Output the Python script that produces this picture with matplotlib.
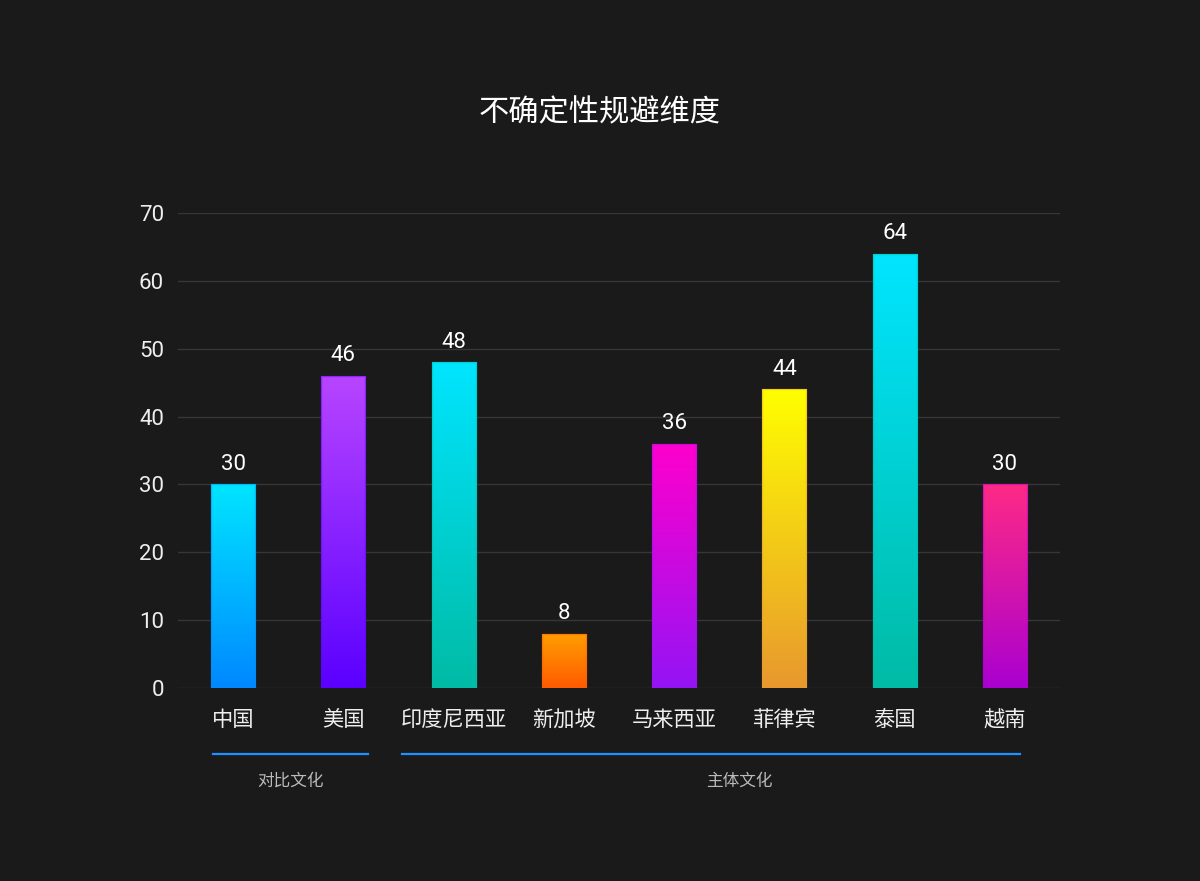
import matplotlib.pyplot as plt
import numpy as np
from matplotlib.colors import LinearSegmentedColormap, to_rgba
import matplotlib.transforms as mtransforms

plt.rcParams['font.family'] = ['Roboto', 'Noto Sans CJK SC', 'DejaVu Sans']

countries = ['中国', '美国', '印度尼西亚', '新加坡', '马来西亚', '菲律宾', '泰国', '越南']
values = [30, 46, 48, 8, 36, 44, 64, 30]
# gradient colours per bar: (top, bottom)
top_colors = ['#00E5FF', '#B845FF', '#00E5FF', '#FF9F00', '#FF00CC', '#FFFF00', '#00E5FF', '#FF2A86']
bottom_colors = ['#0088FF', '#5A00FF', '#00BBA5', '#FF5A00', '#9414F5', '#E8982E', '#00BBA5', '#AA00D0']
groups = ['对比文化', '主体文化']
group_start = [0, 2]
group_end = [1, 7]

bg = '#1A1A1A'
fig = plt.figure(figsize=(12, 8.81), dpi=100, facecolor=bg)
ax = fig.add_axes([0.1483, 0.2191, 0.735, 0.5392], facecolor=bg)

x = np.arange(len(countries))
width = 0.4
bars = ax.bar(x, values, width=width, color='none', edgecolor='none', zorder=3)

grad = np.linspace(1, 0, 256).reshape(-1, 1)
for bar, v, ct, cb in zip(bars, values, top_colors, bottom_colors):
    cmap = LinearSegmentedColormap.from_list('g', [cb, ct])
    x0 = bar.get_x()
    im = ax.imshow(grad, cmap=cmap, aspect='auto', extent=[x0, x0 + width, 0, v],
                   zorder=3, vmin=0, vmax=1)
    im.set_clip_path(bar)
    # thin darker outline like the original
    ax.bar(bar.get_x() + width / 2, v, width=width, color='none',
           edgecolor=to_rgba(cb, 0.45), linewidth=1, zorder=4)
    ax.annotate(str(v), (bar.get_x() + width / 2, v), xytext=(0, 7),
                textcoords='offset points', ha='center', va='bottom',
                color='#FFFFFF', fontsize=16)

ax.set_xlim(-0.5, 7.5)
ax.set_ylim(0, 70)
ax.set_yticks(range(0, 71, 10))
ax.set_xticks(x)
ax.set_xticklabels(countries)
ax.yaxis.grid(True, color='#363636', linewidth=1)
ax.set_axisbelow(True)
for s in ax.spines.values():
    s.set_visible(False)
ax.tick_params(axis='both', length=0, colors='#EEEEEE', labelsize=16)
ax.tick_params(axis='x', pad=16, labelsize=15.3)
ax.tick_params(axis='y', pad=10)

trans = mtransforms.blended_transform_factory(ax.transData, ax.transAxes)
pad_left = [0.18, 0.47]
pad_right = [0.22, 0.14]
label_x = [0.52, 4.59]
for name, s, e, pl, pr, lx in zip(groups, group_start, group_end, pad_left, pad_right, label_x):
    ax.plot([s - pl, e + pr], [-0.139, -0.139], transform=trans, color='#1E90FF',
            linewidth=1.6, clip_on=False)
    ax.text(lx, -0.195, name, transform=trans, ha='center',
            va='center', color='#BBBBBB', fontsize=12)

fig.text(0.5, 0.872, '不确定性规避维度', ha='center', va='center', color='#FFFFFF', fontsize=21.8)

fig.savefig('out.png', dpi=100, facecolor=bg)
